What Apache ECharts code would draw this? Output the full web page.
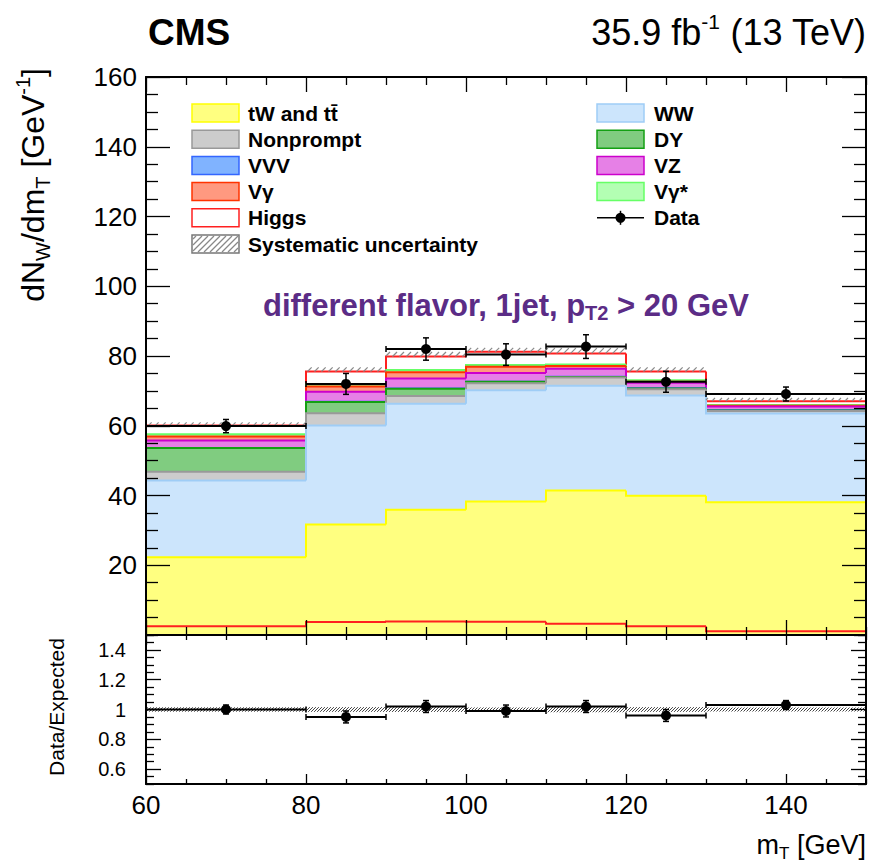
<!DOCTYPE html>
<html><head><meta charset="utf-8">
<script src="https://cdn.jsdelivr.net/npm/echarts@6/dist/echarts.min.js"></script>
<style>html,body{margin:0;padding:0;background:#fff}#c{width:872px;height:865px}</style>
</head><body><div id="c"></div>
<script>
// ---------------- data ----------------
const binEdges   = [60, 80, 90, 100, 110, 120, 130, 150];
const tWtt       = [22.3, 31.7, 35.9, 38.3, 41.4, 39.9, 38.1];
const WW         = [22.0, 28.4, 30.4, 31.9, 30.1, 28.8, 25.4];
const nonprompt  = [2.5, 3.5, 2.2, 2.0, 2.3, 1.8, 0.7];
const DY         = [6.8, 3.2, 2.1, 0.4, 0.2, 0.2, 0.2];
const VZ         = [2.1, 2.9, 2.9, 2.5, 2.3, 1.6, 1.1];
const VVV        = [0.05, 0.05, 0.05, 0.05, 0.05, 0.05, 0.05];
const Vgamma     = [1.2, 1.5, 1.8, 1.8, 0.8, 0.3, 0.2];
const VgammaStar = [0.6, 0.6, 0.6, 0.5, 0.4, 0.4, 0.2];
const higgs      = [2.5, 3.7, 3.9, 3.8, 3.2, 2.5, 1.1];
const systUnc    = [0.9, 1.2, 1.3, 1.1, 1.5, 1.2, 0.9];
const dataX      = [70, 85, 95, 105, 115, 125, 140];
const dataY      = [59.9, 72.0, 82.0, 80.4, 82.7, 72.6, 69.1];
const dataErr    = [1.9, 3.0, 3.2, 3.1, 3.4, 3.0, 2.0];
const ratioY     = [1.00, 0.95, 1.02, 0.99, 1.02, 0.96, 1.03];
const ratioErr   = [0.03, 0.04, 0.04, 0.04, 0.04, 0.04, 0.03];
const xTickLabels      = [60, 80, 100, 120, 140];
const mainYTickLabels  = [20, 40, 60, 80, 100, 120, 140, 160];
const ratioYTickLabels = [0.6, 0.8, 1, 1.2, 1.4];

// ---------------- helpers ----------------
const F = '"Liberation Sans", Arial, Helvetica, sans-serif';
const nBins = binEdges.length - 1;
const layers = [
  {name: 'tW and tt\u0304', vals: tWtt,       fill: '#ffff80', line: '#ffff00'},
  {name: 'WW',            vals: WW,         fill: '#cce5fc', line: '#9fcdf6'},
  {name: 'Nonprompt',     vals: nonprompt,  fill: '#cccccc', line: '#999999'},
  {name: 'DY',            vals: DY,         fill: '#80cc80', line: '#13a013'},
  {name: 'VVV',           vals: VVV,        fill: '#80b3ff', line: '#3366ff'},
  {name: 'VZ',            vals: VZ,         fill: '#e680e6', line: '#cc00cc'},
  {name: 'V\u03b3',       vals: Vgamma,     fill: '#ff9980', line: '#ff3300'},
  {name: 'V\u03b3*',      vals: VgammaStar, fill: '#b3ffb3', line: '#66ff66'},
  {name: 'Higgs',         vals: higgs,      fill: '#ffffff', line: '#ff2020'}
];
const cum = [];
let run = new Array(nBins).fill(0);
layers.forEach(L => { run = run.map((v, i) => v + L.vals[i]); cum.push(run.slice()); });
const total = cum[cum.length - 1];

function hatchLines(x0, y0, x1, y1, s, stroke, lw) {
  const out = [];
  let c = Math.ceil((x0 + y0) / s) * s;
  for (; c <= x1 + y1; c += s) {
    const xa = Math.max(x0, c - y1), xb = Math.min(x1, c - y0);
    if (xb > xa) out.push({type: 'line', shape: {x1: xa, y1: c - xa, x2: xb, y2: c - xb}, style: {stroke, lineWidth: lw}});
  }
  return out;
}

function stepSeries(name, cumVals, fill, line, lw) {
  const data = [];
  for (let i = 0; i < nBins; i++) data.push([binEdges[i], binEdges[i + 1], cumVals[i], i > 0 ? cumVals[i - 1] : 0]);
  return {
    type: 'custom', name, xAxisIndex: 0, yAxisIndex: 0, data, silent: true, animation: false,
    encode: {x: [0, 1], y: [2, 3]},
    renderItem: (params, api) => {
      const x0 = api.value(0), x1 = api.value(1), top = api.value(2), prev = api.value(3);
      const a = api.coord([x0, 0]), b = api.coord([x1, top]), c = api.coord([x0, prev]);
      const ch = [];
      if (fill) ch.push({type: 'rect', shape: {x: a[0], y: b[1], width: b[0] - a[0], height: a[1] - b[1]}, style: {fill}});
      ch.push({type: 'polyline', shape: {points: [c, [a[0], b[1]], b]}, style: {stroke: line, lineWidth: lw, fill: null}});
      return {type: 'group', children: ch};
    }
  };
}

function dataSeries(name, xs, ys, es, xi, yi, r) {
  const data = xs.map((x, i) => [x, ys[i], es[i], binEdges[i], binEdges[i + 1]]);
  return {
    type: 'custom', name, xAxisIndex: xi, yAxisIndex: yi, data, silent: true, animation: false, z: 5,
    encode: {x: [0, 3, 4], y: 1},
    renderItem: (params, api) => {
      const xc = api.value(0), y = api.value(1), e = api.value(2), x0 = api.value(3), x1 = api.value(4);
      const p = api.coord([xc, y]), l = api.coord([x0, y]), rr = api.coord([x1, y]);
      const t = api.coord([xc, y + e]), b = api.coord([xc, y - e]);
      const st = {stroke: '#000', lineWidth: 1.5};
      return {type: 'group', children: [
        {type: 'line', shape: {x1: l[0], y1: p[1], x2: rr[0], y2: p[1]}, style: {stroke: '#000', lineWidth: 2}},
        {type: 'line', shape: {x1: l[0], y1: p[1] - 3, x2: l[0], y2: p[1] + 3}, style: st},
        {type: 'line', shape: {x1: rr[0], y1: p[1] - 3, x2: rr[0], y2: p[1] + 3}, style: st},
        {type: 'line', shape: {x1: p[0], y1: t[1], x2: p[0], y2: b[1]}, style: st},
        {type: 'line', shape: {x1: p[0] - 3, y1: t[1], x2: p[0] + 3, y2: t[1]}, style: st},
        {type: 'line', shape: {x1: p[0] - 3, y1: b[1], x2: p[0] + 3, y2: b[1]}, style: st},
        {type: 'circle', shape: {cx: p[0], cy: p[1], r}, style: {fill: '#000'}}
      ]};
    }
  };
}

function bandSeries(name, lo, hi, xi, yi, s, stroke, lw) {
  const data = lo.map((v, i) => [binEdges[i], binEdges[i + 1], v, hi[i]]);
  return {
    type: 'custom', name, xAxisIndex: xi, yAxisIndex: yi, data, silent: true, animation: false, z: 4,
    encode: {x: [0, 1], y: [2, 3]},
    renderItem: (params, api) => {
      const a = api.coord([api.value(0), api.value(3)]), b = api.coord([api.value(1), api.value(2)]);
      return {type: 'group', children: hatchLines(a[0], a[1], b[0], b[1], s, stroke, lw)};
    }
  };
}

function range(a, b, step, skip) {
  const out = [];
  for (let k = 0; a + k * step <= b + 1e-9; k++) {
    const v = +(a + k * step).toFixed(4);
    if (!skip.some(s => Math.abs(s - v) < 1e-6)) out.push(v);
  }
  return out;
}
const xMinor = range(60, 150, 5, xTickLabels);
const yMinor = range(0, 160, 5, mainYTickLabels);
const rMinor = range(0.5, 1.5, 0.05, ratioYTickLabels);

function axis(gridIndex, position, min, max, ticks, len, label, line) {
  return {
    type: 'value', gridIndex, position, min, max, z: 10,
    axisLine: {show: line, onZero: false, lineStyle: {color: '#000', width: 2}},
    axisTick: {show: true, inside: true, length: len, customValues: ticks, lineStyle: {color: '#000', width: 1.3}},
    axisLabel: label || {show: false},
    splitLine: {show: false}, minorTick: {show: false}, minorSplitLine: {show: false},
    axisPointer: {show: false}
  };
}
const xLab = {show: true, customValues: xTickLabels, fontSize: 26, fontFamily: F, color: '#000', margin: 8};
const yLab = {show: true, customValues: mainYTickLabels, fontSize: 26, fontFamily: F, color: '#000', margin: 9};
const rLab = {show: true, customValues: ratioYTickLabels, fontSize: 20, fontFamily: F, color: '#000', margin: 20,
              formatter: v => String(+(+v).toFixed(2))};

const xAxes = [
  axis(0, 'bottom', 60, 150, xTickLabels, 15, null, true),
  axis(0, 'bottom', 60, 150, xMinor, 8, null, false),
  axis(0, 'top', 60, 150, xTickLabels, 15, null, true),
  axis(0, 'top', 60, 150, xMinor, 8, null, false),
  axis(1, 'bottom', 60, 150, xTickLabels, 10, xLab, true),
  axis(1, 'bottom', 60, 150, xMinor, 5, null, false),
  axis(1, 'top', 60, 150, xTickLabels, 10, null, true),
  axis(1, 'top', 60, 150, xMinor, 5, null, false)
];
const yAxes = [
  axis(0, 'left', 0, 160, mainYTickLabels, 24, yLab, true),
  axis(0, 'left', 0, 160, yMinor, 12, null, false),
  axis(0, 'right', 0, 160, mainYTickLabels, 24, null, true),
  axis(0, 'right', 0, 160, yMinor, 12, null, false),
  axis(1, 'left', 0.5, 1.5, ratioYTickLabels, 15, rLab, true),
  axis(1, 'left', 0.5, 1.5, rMinor, 8, null, false),
  axis(1, 'right', 0.5, 1.5, ratioYTickLabels, 15, null, true),
  axis(1, 'right', 0.5, 1.5, rMinor, 8, null, false)
];

// ---------------- series ----------------
const series = [];
for (let k = layers.length - 1; k >= 0; k--) series.push(stepSeries(layers[k].name, cum[k], layers[k].fill, layers[k].line, 2));
series.push(stepSeries('Higgs (alone)', higgs, null, '#ff2020', 2));
series.push(bandSeries('Systematic uncertainty', total, total.map((t, i) => t + systUnc[i]), 0, 0, 7, '#8a8a8a', 1.2));
series.push(dataSeries('Data', dataX, dataY, dataErr, 0, 0, 5));
series.push(bandSeries('Systematic uncertainty (ratio)', systUnc.map((s, i) => 1 - s / total[i]), systUnc.map((s, i) => 1 + s / total[i]), 4, 4, 3, '#444', 1));
series.push(dataSeries('Data/Expected', dataX, ratioY, ratioErr, 4, 4, 5));

// ---------------- graphic (texts, legend) ----------------
const g = [];
function txt(x, y, text, o) {
  g.push(Object.assign({type: 'text', x, y, z: 20, silent: true,
    style: Object.assign({text, fontFamily: F, fill: '#000', fontSize: 20}, o.style || {})}, o.el || {}));
}
txt(148, 32, 'CMS', {style: {fontSize: 37, fontWeight: 'bold', align: 'left', verticalAlign: 'middle', textAlign: 'left', textVerticalAlign: 'middle'}});
txt(866, 32, '{m|35.9 fb}{p|-1}{m| (13 TeV)}', {style: {align: 'right', verticalAlign: 'middle', textAlign: 'right', textVerticalAlign: 'middle',
  rich: {m: {fontSize: 36, fontFamily: F, lineHeight: 42, fill: '#000'}, p: {fontSize: 21, fontFamily: F, lineHeight: 22, verticalAlign: 'top', fill: '#000'}}}});
txt(33, 68, '{m|dN}{s|W}{m|/dm}{s|T}{m| [GeV}{p|-1}{m|]}', {el: {rotation: Math.PI / 2}, style: {align: 'right', verticalAlign: 'middle', textAlign: 'right', textVerticalAlign: 'middle',
  rich: {m: {fontSize: 32, fontFamily: F, lineHeight: 40, fill: '#000'}, s: {fontSize: 20, fontFamily: F, lineHeight: 14, verticalAlign: 'bottom', fill: '#000'},
         p: {fontSize: 20, fontFamily: F, lineHeight: 20, verticalAlign: 'top', fill: '#000'}}}});
txt(56, 707, 'Data/Expected', {el: {rotation: Math.PI / 2}, style: {fontSize: 21, align: 'center', verticalAlign: 'middle', textAlign: 'center', textVerticalAlign: 'middle'}});
txt(866, 845, '{m|m}{s|T}{m| [GeV]}', {style: {align: 'right', verticalAlign: 'middle', textAlign: 'right', textVerticalAlign: 'middle',
  rich: {m: {fontSize: 27, fontFamily: F, lineHeight: 34, fill: '#000'}, s: {fontSize: 17, fontFamily: F, lineHeight: 18, verticalAlign: 'bottom', fill: '#000'}}}});
txt(263, 305, '{b|different flavor, 1jet, p}{s|T2}{b| > 20 GeV}', {style: {align: 'left', verticalAlign: 'middle', textAlign: 'left', textVerticalAlign: 'middle',
  rich: {b: {fontSize: 31, fontWeight: 'bold', fontFamily: F, fill: '#5b2c86', lineHeight: 36},
         s: {fontSize: 20, fontWeight: 'bold', fontFamily: F, fill: '#5b2c86', lineHeight: 20, verticalAlign: 'bottom'}}}});

// legend
const byName = {};
layers.forEach(L => byName[L.name] = L);
const leftCol = ['tW and tt\u0304', 'Nonprompt', 'VVV', 'V\u03b3', 'Higgs', 'Systematic uncertainty'];
const rightCol = ['WW', 'DY', 'VZ', 'V\u03b3*', 'Data'];
function legendItem(bx, tx, top, name) {
  const h = 18, w = 47, cy = top + h / 2;
  if (name === 'Systematic uncertainty') {
    g.push({type: 'rect', z: 20, silent: true, shape: {x: bx, y: top, width: w, height: h}, style: {fill: '#fff', stroke: '#777', lineWidth: 1.5}});
    hatchLines(bx + 1, top + 1, bx + w - 1, top + h - 1, 6, '#888', 1.2).forEach(e => { e.z = 21; e.silent = true; g.push(e); });
  } else if (name === 'Data') {
    g.push({type: 'line', z: 20, silent: true, shape: {x1: bx, y1: cy, x2: bx + w, y2: cy}, style: {stroke: '#000', lineWidth: 1.5}});
    g.push({type: 'line', z: 20, silent: true, shape: {x1: bx + w / 2, y1: cy - 7, x2: bx + w / 2, y2: cy + 7}, style: {stroke: '#000', lineWidth: 1.5}});
    g.push({type: 'circle', z: 21, silent: true, shape: {cx: bx + w / 2, cy, r: 5}, style: {fill: '#000'}});
  } else {
    const L = byName[name];
    g.push({type: 'rect', z: 20, silent: true, shape: {x: bx, y: top, width: w, height: h}, style: {fill: L.fill, stroke: L.line, lineWidth: 1.5}});
  }
  txt(tx, cy, name, {style: {fontSize: 21, fontWeight: 'bold', align: 'left', verticalAlign: 'middle', textAlign: 'left', textVerticalAlign: 'middle'}});
}
leftCol.forEach((n, i) => legendItem(192, 248, 104 + i * 26.2, n));
rightCol.forEach((n, i) => legendItem(597, 654, 104 + i * 26.2, n));

// ---------------- chart ----------------
const chart = echarts.init(document.getElementById('c'), null, {renderer: 'svg', width: 872, height: 865});
chart.setOption({
  backgroundColor: '#fff',
  animation: false,
  grid: [
    {left: 146, top: 77, width: 720, height: 558, containLabel: false, outerBoundsMode: 'none'},
    {left: 146, top: 635, width: 720, height: 149, containLabel: false, outerBoundsMode: 'none'}
  ],
  xAxis: xAxes,
  yAxis: yAxes,
  series,
  graphic: {elements: g}
});
</script>
</body></html>
